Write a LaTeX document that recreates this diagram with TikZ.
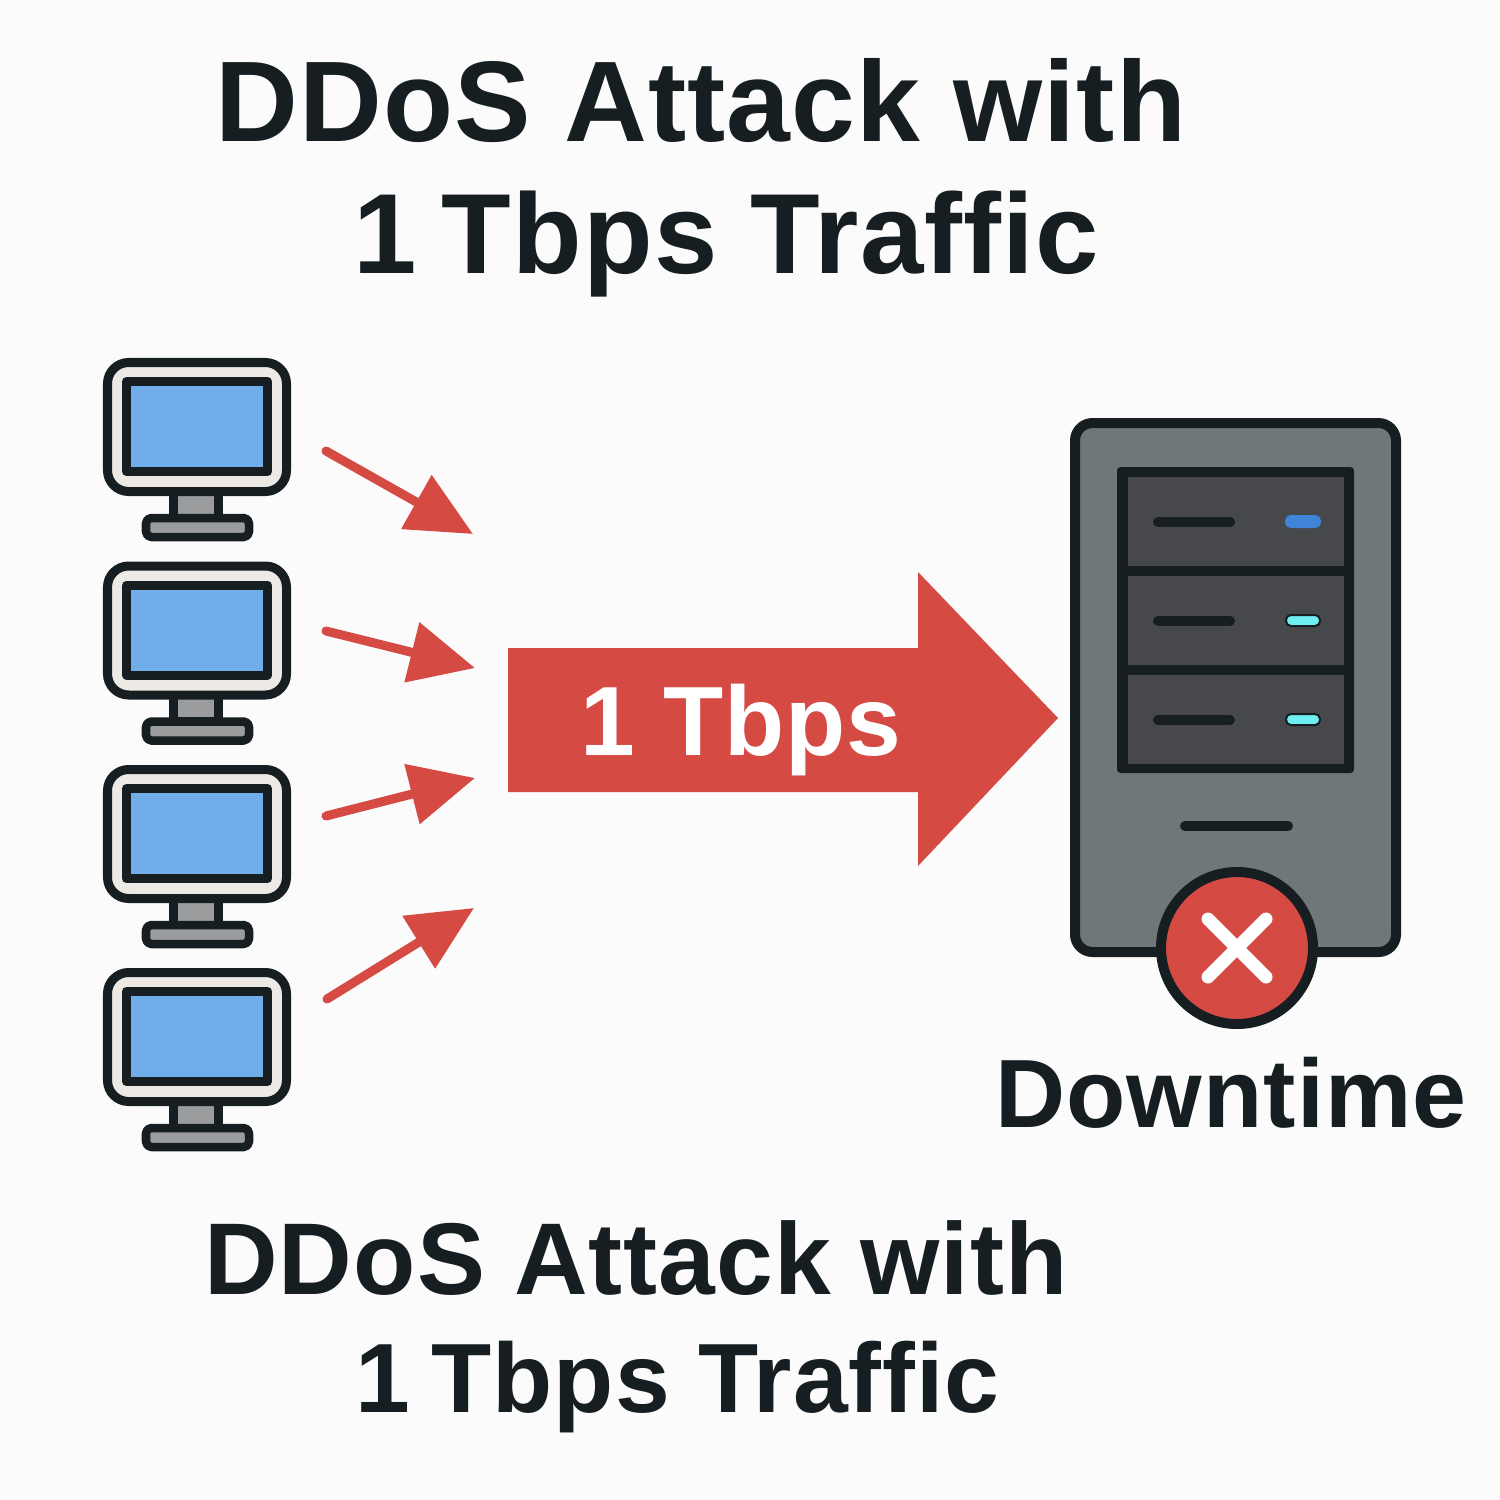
\documentclass[tikz,border=0pt]{standalone}
\usepackage{fontspec}
\setmainfont{Liberation Sans}[LetterSpace=1]
\usetikzlibrary{arrows.meta}
\definecolor{bgcol}{HTML}{FBFBFB}
\definecolor{inkcol}{HTML}{161E22}
\definecolor{redcol}{HTML}{D64A44}
\definecolor{screencol}{HTML}{6FAEE8}
\definecolor{bezelcol}{HTML}{EDEAE6}
\definecolor{standcol}{HTML}{9A9C9E}
\definecolor{casecol}{HTML}{707779}
\definecolor{panelcol}{HTML}{46484C}
\definecolor{ledblue}{HTML}{3F84D6}
\definecolor{ledcyan}{HTML}{6FEFF2}
\tikzset{
  px/.style={line width=#1*0.2845pt},
  inkline/.style={draw=inkcol, line join=round},
  label/.style={font=\bfseries\fontsize{#1pt}{#1pt}\selectfont, text=inkcol, anchor=base, inner sep=0pt},
  flowarrow/.style={draw=redcol, px=9, line cap=round, -{Triangle[length=18.5pt,width=17pt,fill=redcol]}},
  slot/.style={draw=inkcol, px=10, line cap=round},
  pics/monitor/.style={code={
    \filldraw[inkline, px=9, fill=standcol] (173.5,490) rectangle (218.5,518);
    \filldraw[inkline, px=8.5, fill=standcol, rounded corners=1.5pt] (146,518) rectangle (249,537);
    \filldraw[inkline, px=9, fill=bezelcol, rounded corners=6pt] (107.5,362.5) rectangle (286.5,491.5);
    \filldraw[inkline, px=9, fill=screencol] (126.5,381.5) rectangle (267.5,471.5);
  }}
}
\begin{document}
\begin{tikzpicture}[x=0.01cm, y=-0.01cm]
\fill[bgcol] (0,0) rectangle (1500,1500);
\useasboundingbox (0,0) rectangle (1500,1500);
% titles
\node[label=32.6] (title1) at (701,142) {DDoS Attack with};
\node[label=32.4] (title2) at (726.5,273) {1\kern-0.07em\ Tbps Traffic};
\node[label=29] (caption1) at (636,1294) {DDoS Attack with};
\node[label=28] (caption2) at (677.5,1412) {1\kern-0.07em\ Tbps Traffic};
% computers
\foreach \i/\dy in {1/0, 2/203.5, 3/407, 4/610} {
  \pic at (0,\dy) {monitor};
}
% small arrows
\coordinate (from1) at (326,451);
\coordinate (to1) at (473,534);
\coordinate (from2) at (326,631);
\coordinate (to2) at (475,668);
\coordinate (from3) at (326,816);
\coordinate (to3) at (475,778);
\coordinate (from4) at (327,999);
\coordinate (to4) at (474,908);
\foreach \i in {1,...,4} {
  \draw[flowarrow] (from\i) -- (to\i);
}
% big arrow
\fill[redcol] (508,648) -- (918,648) -- (918,572) -- (1058,718) -- (918,866) -- (918,792) -- (508,792) -- cycle;
\node[label=28, text=white] (rate) at (741,755) {1 Tbps};
% server
\filldraw[inkline, px=10, fill=casecol, rounded corners=5pt] (1075,423) rectangle (1396,952);
\fill[inkcol, rounded corners=1pt] (1117,467) rectangle (1354,773);
\foreach \y/\led/\edge in {477/ledblue/ledblue, 576/ledcyan/inkcol, 675/ledcyan/inkcol} {
  \fill[panelcol] (1128,\y) rectangle (1344,\y+89);
  \draw[slot] (1158,\y+45) -- (1230,\y+45);
  \filldraw[draw=\edge, px=2, fill=\led, rounded corners=1.4pt] (1286,\y+39) rectangle (1320,\y+50);
}
\draw[slot] (1185,826) -- (1288,826);
% status badge
\filldraw[inkline, px=10, fill=redcol] (1237,948) circle (76);
\draw[white, px=13, line cap=round] (1208,919) -- (1266,977);
\draw[white, px=13, line cap=round] (1266,919) -- (1208,977);
\node[label=27.6] (downtime) at (1231,1127) {Downtime};
\end{tikzpicture}
\end{document}
